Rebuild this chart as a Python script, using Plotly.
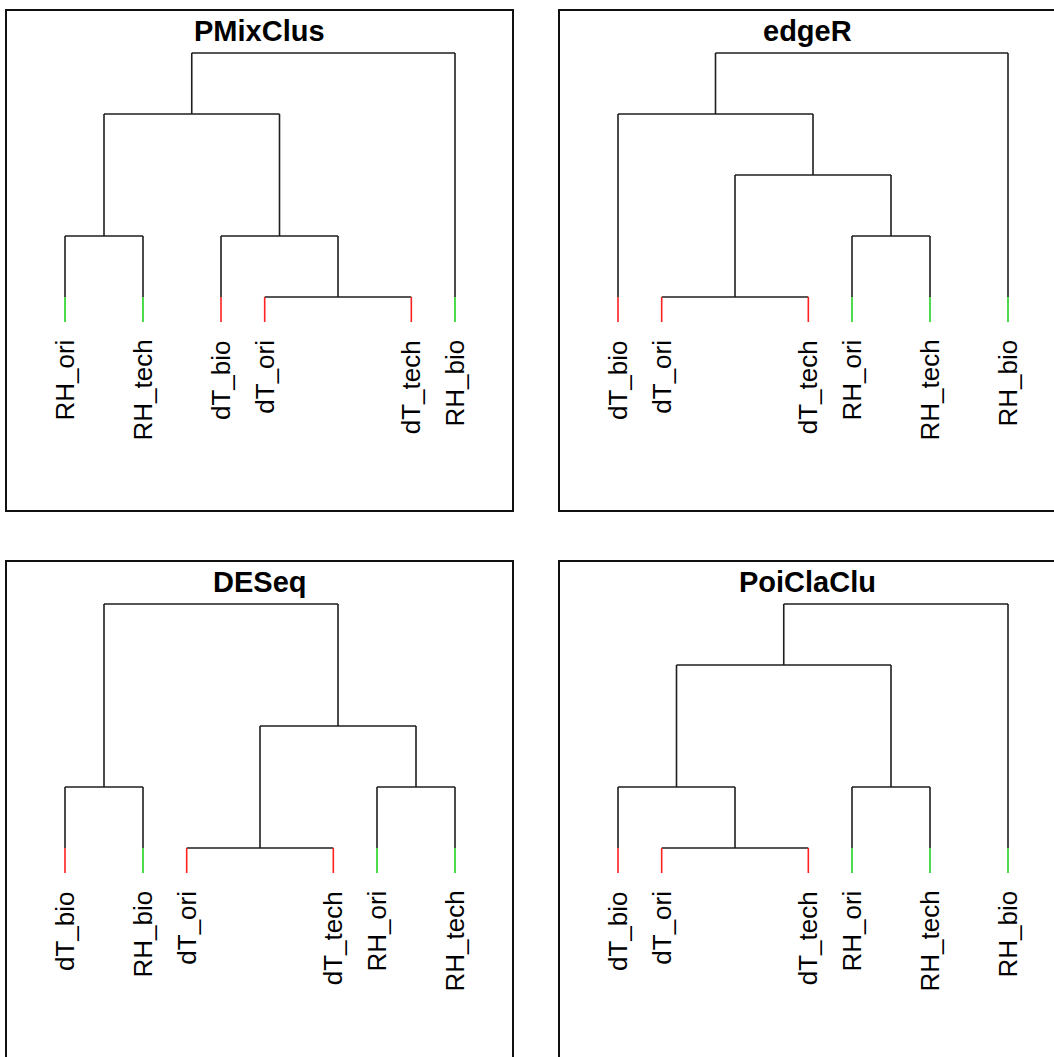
import plotly.graph_objects as go

# ---------------- data ----------------
titles = ["PMixClus", "edgeR", "DESeq", "PoiClaClu"]

# leaf order and horizontal leaf positions for each panel
leaves_pmix = ["RH_ori", "RH_tech", "dT_bio", "dT_ori", "dT_tech", "RH_bio"]
pos_pmix = [1.0, 2.0, 3.0, 3.56, 5.44, 6.0]
merges_pmix = [("dT_ori", "dT_tech", 1), ("RH_ori", "RH_tech", 2),
               ("dT_bio", "m0", 2), ("m1", "m2", 4), ("m3", "RH_bio", 5)]

leaves_edger = ["dT_bio", "dT_ori", "dT_tech", "RH_ori", "RH_tech", "RH_bio"]
pos_edger = [1.0, 1.56, 3.44, 4.0, 5.0, 6.0]
merges_edger = [("dT_ori", "dT_tech", 1), ("RH_ori", "RH_tech", 2),
                ("m0", "m1", 3), ("dT_bio", "m2", 4), ("m3", "RH_bio", 5)]

leaves_deseq = ["dT_bio", "RH_bio", "dT_ori", "dT_tech", "RH_ori", "RH_tech"]
pos_deseq = [1.0, 2.0, 2.56, 4.44, 5.0, 6.0]
merges_deseq = [("dT_ori", "dT_tech", 1), ("dT_bio", "RH_bio", 2),
                ("RH_ori", "RH_tech", 2), ("m0", "m2", 3), ("m1", "m3", 5)]

leaves_poi = ["dT_bio", "dT_ori", "dT_tech", "RH_ori", "RH_tech", "RH_bio"]
pos_poi = [1.0, 1.56, 3.44, 4.0, 5.0, 6.0]
merges_poi = [("dT_ori", "dT_tech", 1), ("dT_bio", "m0", 2),
              ("RH_ori", "RH_tech", 2), ("m1", "m2", 4), ("m3", "RH_bio", 5)]

panels = [
    (leaves_pmix, pos_pmix, merges_pmix),
    (leaves_edger, pos_edger, merges_edger),
    (leaves_deseq, pos_deseq, merges_deseq),
    (leaves_poi, pos_poi, merges_poi),
]

# ---------------- style ----------------
LEAF_BOTTOM = 0.59     # where leaf stems end
LEAF_COLOR_TOP = 1.0   # top of coloured part of leaf stems
GROUP_COLORS = {"RH": "#22d022", "dT": "#ff2020"}
LINE_COLOR = "#1e1e1e"
FONT = "Liberation Sans, Arial, sans-serif"

W, H = 1054, 1057
# pixel boxes of the panels (left, top, right, bottom) in the canvas
boxes = [(7, 11, 512, 510), (560, 11, 1065, 510),
         (7, 562, 512, 1061), (560, 562, 1065, 1061)]
# pixel mapping: leaf position 1 -> px_x1, step px per unit; height 1 -> px_y1, px per unit
PX_X1, PX_STEP = 58.0, 78.0   # relative to panel left
PX_Y1, PX_HSTEP = 286.0, 61.0  # relative to panel top

fig = go.Figure()
annotations = []
layout_axes = {}

for i, ((leaves, pos, merges), title, box) in enumerate(zip(panels, titles, boxes)):
    L, T, R, B = box
    vis_R, vis_B = min(R, W), min(B, H)
    x0 = 1 + (0 - PX_X1) / PX_STEP
    x1 = 1 + ((vis_R - L) - PX_X1) / PX_STEP
    ytop = 1 + (PX_Y1 - 0) / PX_HSTEP
    ybot = 1 + (PX_Y1 - (vis_B - T)) / PX_HSTEP
    dom_x = [L / W, vis_R / W]
    dom_y = [1 - vis_B / H, 1 - T / H]

    xa = "x" if i == 0 else f"x{i+1}"
    ya = "y" if i == 0 else f"y{i+1}"
    xkey = "xaxis" if i == 0 else f"xaxis{i+1}"
    ykey = "yaxis" if i == 0 else f"yaxis{i+1}"
    cut_right = R > W
    cut_bottom = B > H
    layout_axes[xkey] = dict(domain=dom_x, range=[x0, x1], anchor=ya,
                             showgrid=False, zeroline=False, showticklabels=False,
                             ticks="", showline=True, linecolor="#111111", linewidth=1.8,
                             mirror=(not cut_bottom), side=("top" if cut_bottom else "bottom"),
                             fixedrange=True)
    layout_axes[ykey] = dict(domain=dom_y, range=[ybot, ytop], anchor=xa,
                             showgrid=False, zeroline=False, showticklabels=False,
                             ticks="", showline=True, linecolor="#111111", linewidth=1.8,
                             mirror=(not cut_right), fixedrange=True)

    node_x = {name: p for name, p in zip(leaves, pos)}
    node_h = {name: LEAF_COLOR_TOP for name in leaves}
    parent_h = {}
    bx, by = [], []
    for k, (a, b, h) in enumerate(merges):
        mid = (node_x[a] + node_x[b]) / 2
        bx += [node_x[a], node_x[b], None]
        by += [h, h, None]
        for c in (a, b):
            parent_h[c] = h
            if c.startswith("m"):
                bx += [node_x[c], node_x[c], None]
                by += [h, node_h[c], None]
            elif h > LEAF_COLOR_TOP:
                bx += [node_x[c], node_x[c], None]
                by += [h, LEAF_COLOR_TOP, None]
        node_x[f"m{k}"] = mid
        node_h[f"m{k}"] = h
    fig.add_trace(go.Scatter(x=bx, y=by, mode="lines", xaxis=xa, yaxis=ya,
                             line=dict(color=LINE_COLOR, width=1.6),
                             hoverinfo="skip", showlegend=False))
    for grp, col in GROUP_COLORS.items():
        gx, gy = [], []
        for name in leaves:
            if name.startswith(grp):
                top = min(parent_h[name], LEAF_COLOR_TOP)
                gx += [node_x[name], node_x[name], None]
                gy += [top, LEAF_BOTTOM, None]
        fig.add_trace(go.Scatter(x=gx, y=gy, mode="lines", xaxis=xa, yaxis=ya,
                                 line=dict(color=col, width=1.6),
                                 hoverinfo="skip", showlegend=False))
    for name in leaves:
        annotations.append(dict(x=node_x[name], y=LEAF_BOTTOM, xref=xa, yref=ya,
                                text=name, showarrow=False, textangle=-90,
                                xanchor="center", yanchor="top", yshift=-16, xshift=0,
                                font=dict(family=FONT, size=26, color="#000000")))
    annotations.append(dict(x=0.5, y=1, xref=f"{xa} domain", yref=f"{ya} domain",
                            text=f"<b>{title}</b>", showarrow=False,
                            xanchor="center", yanchor="top", yshift=-2,
                            font=dict(family=FONT, size=29, color="#000000")))

fig.update_layout(width=W, height=H, margin=dict(l=0, r=0, t=0, b=0),
                  paper_bgcolor="white", plot_bgcolor="white",
                  annotations=annotations, **layout_axes)
fig.write_html("out.html")
